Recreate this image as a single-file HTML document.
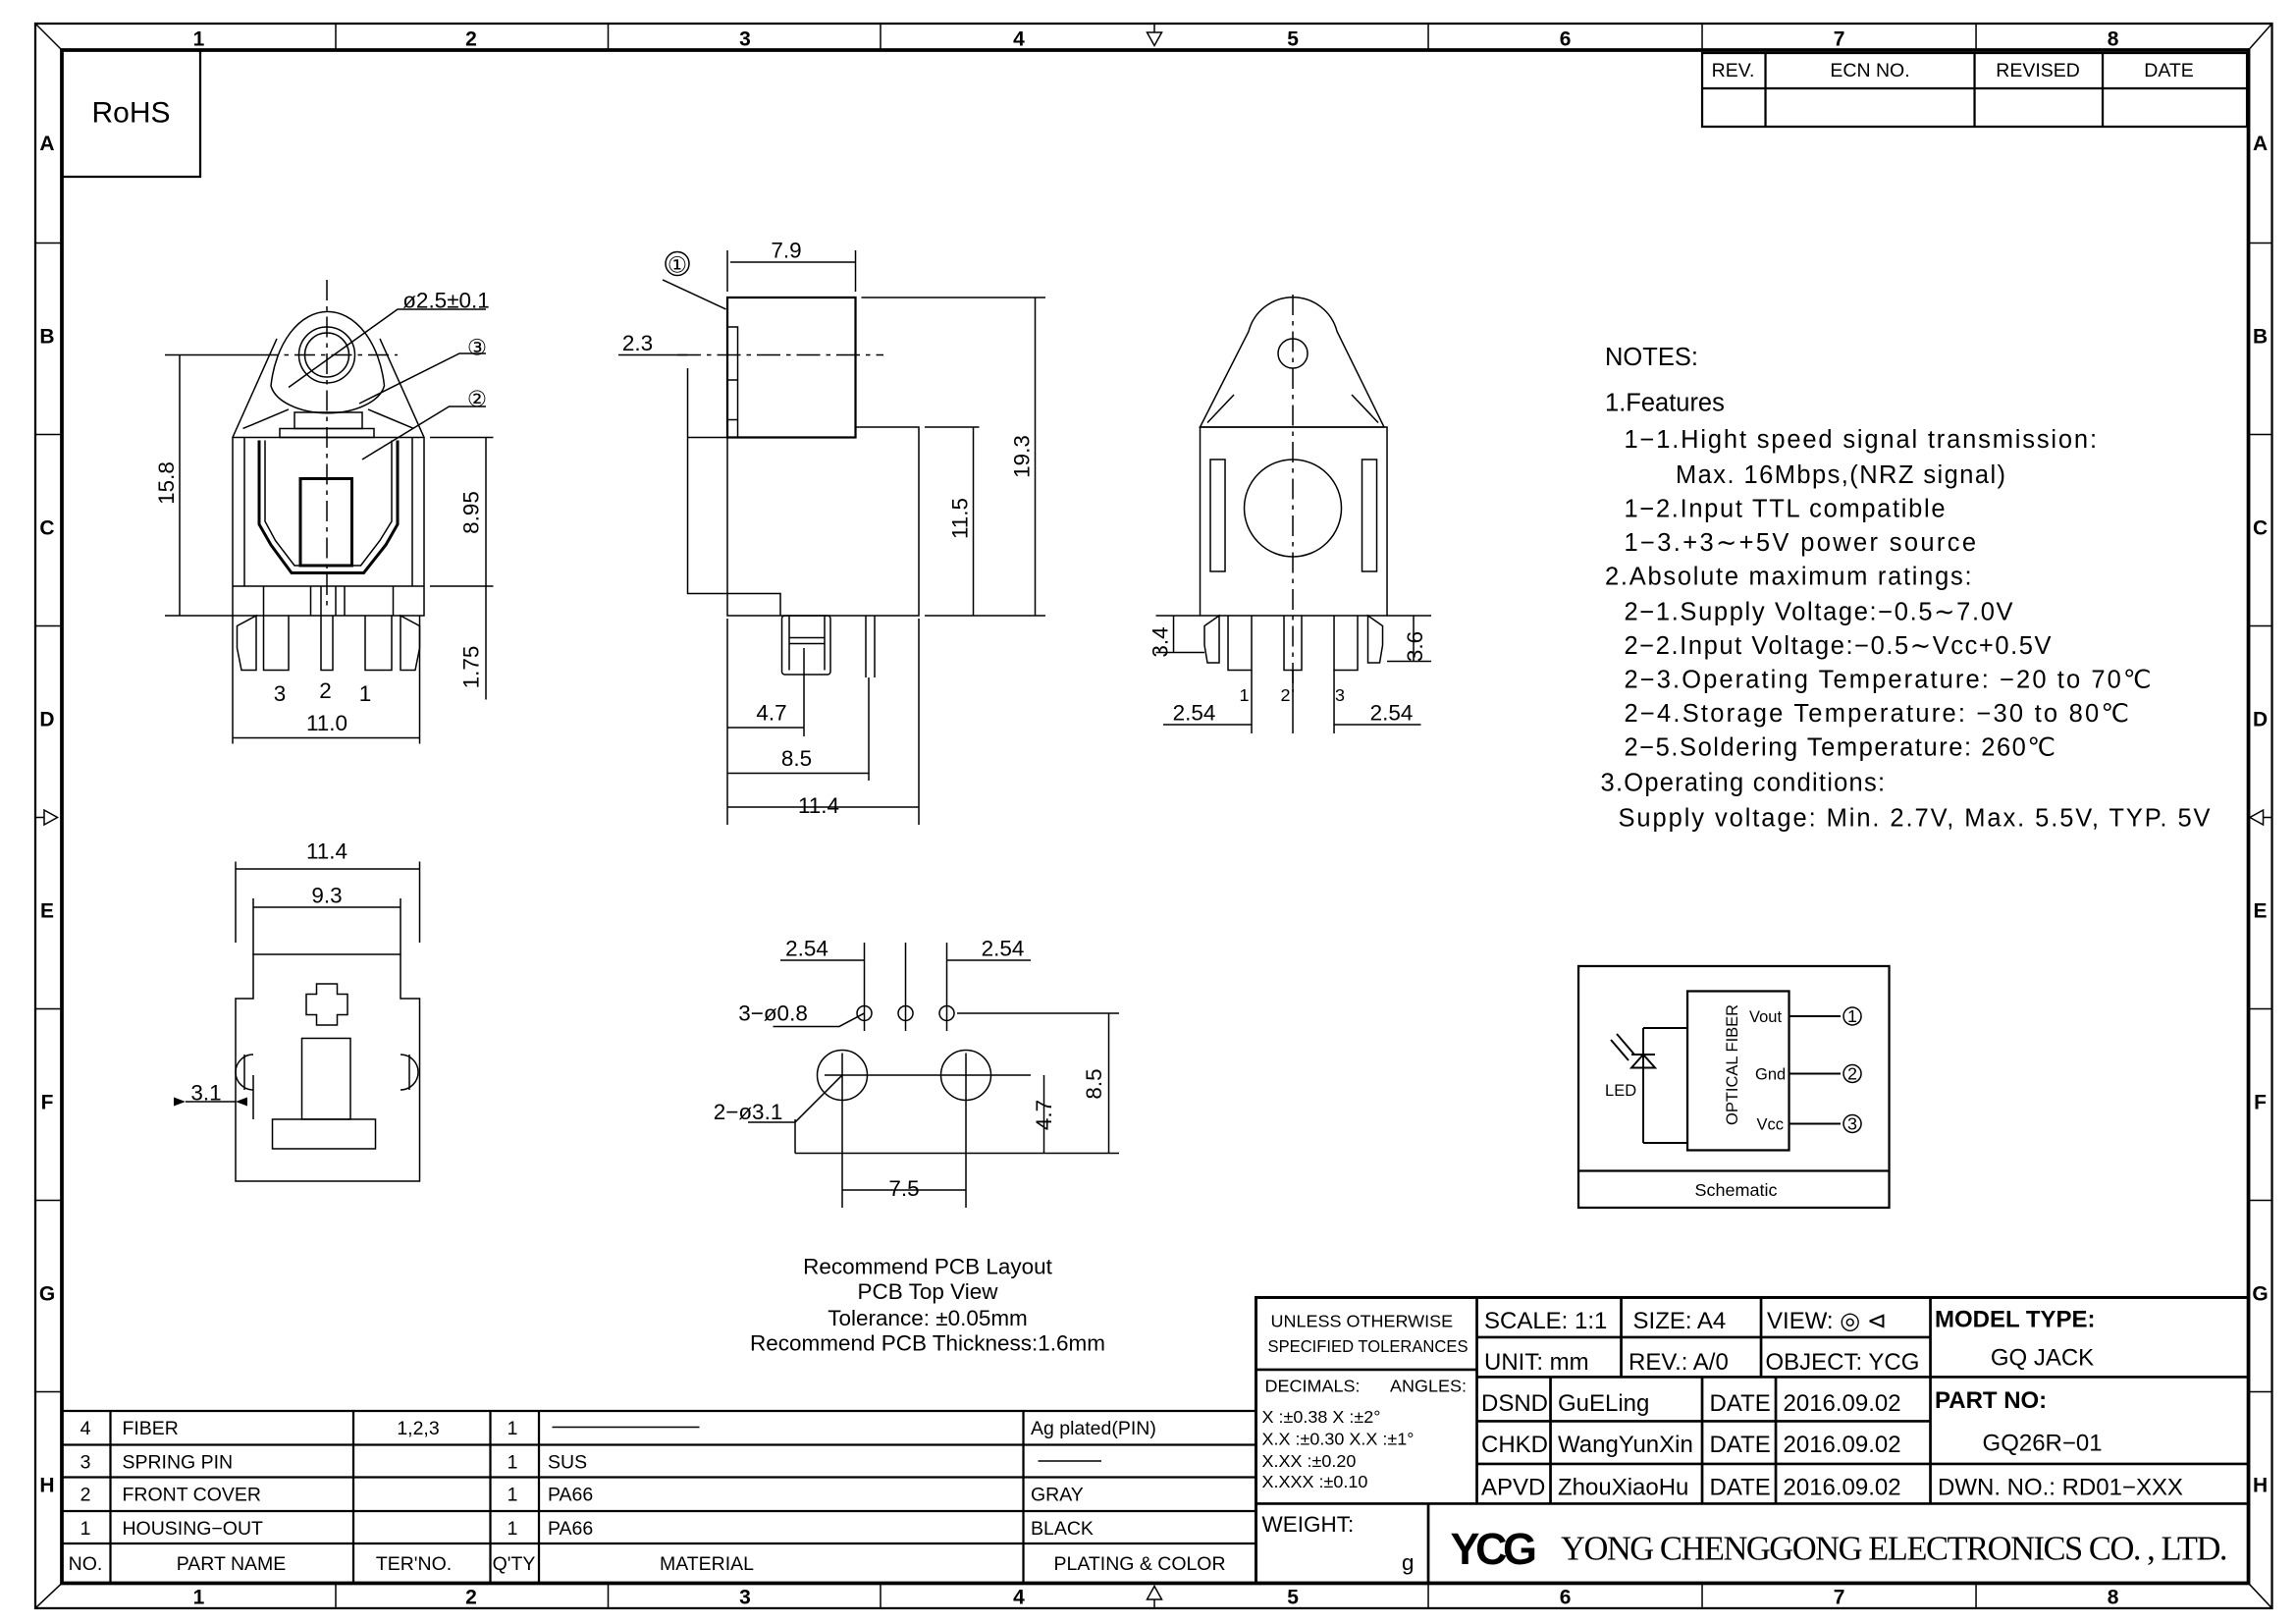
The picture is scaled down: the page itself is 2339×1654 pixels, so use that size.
<!DOCTYPE html>
<html><head><meta charset="utf-8"><style>
html,body{margin:0;padding:0;background:#fff;}
svg{display:block;}
text{font-family:"Liberation Sans Narrow","Liberation Sans",sans-serif;fill:#000;}
</style></head><body>
<svg width="2339" height="1654" viewBox="0 0 1559.3 1102.7" preserveAspectRatio="none" xmlns="http://www.w3.org/2000/svg">
<g fill="none" stroke="#000" stroke-width="1">
<rect x="24" y="16" width="1519" height="1076" stroke-width="1.5"/>
<rect x="42" y="34" width="1485" height="1041" stroke-width="2.5"/>
<line x1="24" y1="16" x2="42" y2="34"/><line x1="1543" y1="16" x2="1527" y2="34"/>
<line x1="24" y1="1092" x2="42" y2="1075"/><line x1="1543" y1="1092" x2="1527" y2="1075"/>
<path d="M228 16V34M413 16V34M598 16V34M970 16V34M1156 16V34M1342 16V34M228 1075V1092M413 1075V1092M598 1075V1092M970 1075V1092M1156 1075V1092M1342 1075V1092"/>
<path d="M24 165H42M24 295H42M24 425H42M24 685H42M24 815H42M24 945H42M1527 165H1543M1527 295H1543M1527 425H1543M1527 685H1543M1527 815H1543M1527 945H1543"/>
<path d="M779 22L784 31L789 22ZM784 16V22M779 1086L784 1077L789 1086ZM784 1092V1086M30 550L39 555L30 560ZM24 555H30M1537 550L1528 555L1537 560ZM1543 555H1537"/>
<rect x="42" y="34" width="94" height="86" stroke-width="1.5"/>
<rect x="1156" y="36" width="370" height="50" stroke-width="1.5"/>
<path d="M1156 60H1526M1199 36V86M1341 36V86M1428 36V86" stroke-width="1.5"/>
<rect x="853" y="881" width="674" height="194" stroke-width="2"/>
<path d="M1003 881V1021M853 930H1003M853 1021H1527M970 1021V1075M1311 881V1021M1003 908H1311M1003 935H1527M1003 965H1311M1003 994H1527M1101 881V935M1196 881V935M1053 935V1021M1156 935V1021M1206 935V1021" stroke-width="1.8"/>
<path d="M42 958H853M42 981H853M42 1003H853M42 1026H853M42 1048H853M75 958V1075M240 958V1075M333 958V1075M366 958V1075M695 958V1075" stroke-width="1.5"/>
<path d="M375 969H475M705 992H748"/>

<path d="M184 262 A39 60 0 0 1 261 262 A39 22 0 0 1 184 262Z"/>
<circle cx="222" cy="241" r="19"/><circle cx="222" cy="241" r="15"/>
<path d="M158 297L188 230M288 297L258 230M165 291L196 278M281 291L250 278"/>
<rect x="200" y="280" width="46" height="11"/><rect x="190" y="291" width="64" height="6"/>
<rect x="158" y="297" width="130" height="121"/>
<path d="M158 398H288M166 297V398M280 297V398"/>
<path d="M176 299V356L184 370L198 389H247L262 370L270 356V299" stroke-width="2"/>
<path d="M180 299V354L187 367L200 384H245L258 367L266 354V299"/>
<rect x="204" y="325" width="35" height="59" stroke-width="2"/>
<path d="M179 398V418M211 398V418M218 398V418M228 398V418M234 398V418M267 398V418"/>
<path d="M161 425L174 418V455H164L161 440ZM179 418V455H196V418M218 418V455H226V418M248 418V455H266V418M285 425L272 418V455H282L285 440Z"/>
<path d="M222 190V415" stroke-dasharray="14 4 3 4"/>
<path d="M175 241H270" stroke-dasharray="14 4 3 4"/>
<path d="M196 263L270 210H330M244 274L312 240H330M246 312L305 276H330"/>
<path d="M122 241V418M112 241H175M112 418H158M330 297V398M330 398V475M292 297H335M292 398H335M158 418V505M285 418V505M158 501H285"/>
<rect x="494" y="202" width="87" height="95" stroke-width="1.5"/>
<rect x="494" y="222" width="7" height="75"/>
<path d="M494 258H501M494 285H501"/>
<path d="M467 297H581M467 297V403H530V418M494 297V418H624V290H581M624 290H581"/>
<path d="M460 241H600" stroke-dasharray="16 4 3 4"/>
<rect x="531" y="418" width="33" height="40" rx="2"/>
<path d="M536 418V455M560 418V455M536 433H560M536 437H560"/>
<path d="M588 418V460M594 418V460"/>
<path d="M496 178H581M494 170V198M581 170V198M585 202H710M703 202V418M628 290H665M661 290V418M628 418H710M420 241H467M467 250V297M494 420V560M546 440V500M590 460V530M624 420V560M494 494H546M494 525H590M494 548H624M493 210L450 190"/>
<circle cx="460" cy="179" r="8"/>
<path d="M815 290L848 225A31 31 0 0 1 908 225L940 290Z"/>
<circle cx="878" cy="240" r="10"/>
<path d="M820 287L838 268M936 287L918 268"/>
<rect x="815" y="290" width="127" height="128"/>
<circle cx="878" cy="345" r="33"/>
<rect x="822" y="312" width="10" height="76"/><rect x="925" y="312" width="10" height="76"/>
<path d="M878 200V470" stroke-dasharray="14 4 3 4"/>
<path d="M818 425L828 418V450H820L818 438ZM834 418V455H850V418M872 418V455H884V418M906 418V455H922V418M939 425L929 418V450H937L939 438Z"/>
<path d="M797 418V443M785 418H815M785 443H818M960 418V449M942 418H972M942 449H972M850 455V498M906 455V498M878 455V498M790 492H850M906 492H965"/>
<path d="M160 802V678H172V648H272V678H285V802Z"/>
<path d="M215 668H229V675H236V689H229V696H215V689H208V675H215Z"/>
<path d="M172 716A12 12 0 0 0 172 740M166 716V740M272 716A12 12 0 0 1 272 740M278 716V740"/>
<rect x="205" y="705" width="33" height="55"/>
<rect x="185" y="760" width="70" height="20"/>
<path d="M160 585V640M285 585V640M172 610V648M272 610V648M160 590H285M172 616H272M126 748H160M172 730V760"/>
<circle cx="587" cy="688" r="5"/><circle cx="615" cy="688" r="5"/><circle cx="643" cy="688" r="5"/>
<circle cx="572" cy="730" r="17"/><circle cx="656" cy="730" r="17"/>
<path d="M587 640V700M615 640V700M643 640V700M530 652H587M643 652H700M572 715V820M656 715V820M540 783H760M650 688H760M572 808H656M709 730V783M753 688V783M560 730H700M540 760V783"/>
<path d="M525 697H570L587 688M508 762H540L572 730"/>
<rect x="1072" y="656" width="211" height="164" stroke-width="1.5"/>
<path d="M1072 795H1283" stroke-width="1.5"/>
<rect x="1146" y="673" width="69" height="108" stroke-width="1.5"/>
<path d="M1116 698H1146M1116 776H1146M1116 698V776M1108 725H1124L1116 716ZM1108 716H1124M1098 702L1110 716M1094 706L1106 720" stroke-width="1.3"/>
<path d="M1215 690H1250M1215 729H1250M1215 763H1250" stroke-width="1.3"/>
<circle cx="1258" cy="690" r="6"/><circle cx="1258" cy="729" r="6"/><circle cx="1258" cy="763" r="6"/>
</g>
<g fill="#000" stroke="none">
<path d="M126 748L118 745V751ZM160 748L168 745V751Z"/>
</g>
<g font-size="14" text-anchor="middle" font-weight="bold">
<text x="135" y="31">1</text><text x="320" y="31">2</text><text x="506" y="31">3</text><text x="692" y="31">4</text><text x="878" y="31">5</text><text x="1063" y="31">6</text><text x="1249" y="31">7</text><text x="1435" y="31">8</text>
<text x="135" y="1089">1</text><text x="320" y="1089">2</text><text x="506" y="1089">3</text><text x="692" y="1089">4</text><text x="878" y="1089">5</text><text x="1063" y="1089">6</text><text x="1249" y="1089">7</text><text x="1435" y="1089">8</text>
<text x="32" y="102">A</text><text x="32" y="233">B</text><text x="32" y="363">C</text><text x="32" y="493">D</text><text x="32" y="623">E</text><text x="32" y="753">F</text><text x="32" y="883">G</text><text x="32" y="1013">H</text>
<text x="1535" y="102">A</text><text x="1535" y="233">B</text><text x="1535" y="363">C</text><text x="1535" y="493">D</text><text x="1535" y="623">E</text><text x="1535" y="753">F</text><text x="1535" y="883">G</text><text x="1535" y="1013">H</text>
</g>
<text x="89" y="83" font-size="20" text-anchor="middle" style="font-family:'Liberation Sans',sans-serif">RoHS</text>
<g font-size="13" text-anchor="middle">
<text x="1177" y="52">REV.</text><text x="1270" y="52">ECN NO.</text><text x="1384" y="52">REVISED</text><text x="1473" y="52">DATE</text>
</g>
<g font-size="15" text-anchor="middle">
<text x="303" y="209">ø2.5±0.1</text>
<text x="324" y="241">③</text><text x="324" y="276">②</text>
<text transform="translate(118,328) rotate(-90)">15.8</text>
<text transform="translate(325,348) rotate(-90)">8.95</text>
<text transform="translate(325,453) rotate(-90)">1.75</text>
<text x="190" y="476">3</text><text x="221" y="474">2</text><text x="248" y="476">1</text>
<text x="222" y="496">11.0</text>
<text x="534" y="175">7.9</text><text x="433" y="238">2.3</text>
<text x="460" y="185">①</text>
<text transform="translate(699,310) rotate(-90)">19.3</text>
<text transform="translate(657,352) rotate(-90)">11.5</text>
<text x="524" y="489">4.7</text><text x="541" y="520">8.5</text><text x="556" y="552">11.4</text>
<text transform="translate(793,436) rotate(-90)">3.4</text>
<text transform="translate(966,439) rotate(-90)">3.6</text>
<text x="811" y="489">2.54</text><text x="945" y="489">2.54</text>
<text x="845" y="476" font-size="12">1</text><text x="873" y="476" font-size="12">2</text><text x="910" y="476" font-size="12">3</text>
<text x="222" y="583">11.4</text><text x="222" y="613">9.3</text><text x="140" y="747">3.1</text>
<text x="548" y="649">2.54</text><text x="681" y="649">2.54</text>
<text x="525" y="693">3−ø0.8</text><text x="508" y="760">2−ø3.1</text>
<text transform="translate(714,757) rotate(-90)">4.7</text>
<text transform="translate(748,736) rotate(-90)">8.5</text>
<text x="614" y="812">7.5</text>
</g>
<g font-size="15" text-anchor="middle">
<text x="630" y="865">Recommend  PCB Layout</text>
<text x="630" y="882">PCB Top View</text>
<text x="630" y="900">Tolerance:  ±0.05mm</text>
<text x="630" y="917">Recommend  PCB  Thickness:1.6mm</text>
</g>
<g font-size="17" style="font-family:'Liberation Sans',sans-serif" lengthAdjust="spacing">
<text x="1090" y="248">NOTES:</text>
<text x="1090" y="279">1.Features</text>
<text x="1103" y="304" textLength="321">1−1.Hight  speed  signal  transmission:</text>
<text x="1138" y="328" textLength="224">Max.  16Mbps,(NRZ  signal)</text>
<text x="1103" y="351" textLength="218">1−2.Input  TTL  compatible</text>
<text x="1103" y="374" textLength="239">1−3.+3∼+5V  power  source</text>
<text x="1090" y="397" textLength="249">2.Absolute  maximum  ratings:</text>
<text x="1103" y="421" textLength="264">2−1.Supply  Voltage:−0.5∼7.0V</text>
<text x="1103" y="444" textLength="290">2−2.Input  Voltage:−0.5∼Vcc+0.5V</text>
<text x="1103" y="467" textLength="358">2−3.Operating  Temperature:  −20  to  70℃</text>
<text x="1103" y="490" textLength="343">2−4.Storage  Temperature:  −30  to  80℃</text>
<text x="1103" y="513" textLength="293">2−5.Soldering  Temperature:  260℃</text>
<text x="1087" y="537" textLength="193">3.Operating  conditions:</text>
<text x="1099" y="561" textLength="402">Supply  voltage:  Min.  2.7V,  Max.  5.5V,  TYP.  5V</text>
</g>
<g font-size="11" style="font-family:'Liberation Sans',sans-serif">
<text x="1188" y="694">Vout</text><text x="1192" y="733">Gnd</text><text x="1193" y="767">Vcc</text>
<text x="1090" y="744">LED</text>
<text transform="translate(1180,764) rotate(-90)">OPTICAL  FIBER</text>
<text x="1179" y="812" text-anchor="middle" font-size="12">Schematic</text>
<text x="1258" y="694" text-anchor="middle" font-size="12">1</text><text x="1258" y="733" text-anchor="middle" font-size="12">2</text><text x="1258" y="767" text-anchor="middle" font-size="12">3</text>
</g>
<g font-size="13">
<text x="58" y="974" text-anchor="middle">4</text><text x="83" y="974">FIBER</text><text x="284" y="974" text-anchor="middle">1,2,3</text><text x="348" y="974" text-anchor="middle">1</text><text x="700" y="974">Ag plated(PIN)</text>
<text x="58" y="997" text-anchor="middle">3</text><text x="83" y="997">SPRING PIN</text><text x="348" y="997" text-anchor="middle">1</text><text x="372" y="997">SUS</text>
<text x="58" y="1019" text-anchor="middle">2</text><text x="83" y="1019">FRONT COVER</text><text x="348" y="1019" text-anchor="middle">1</text><text x="372" y="1019">PA66</text><text x="700" y="1019">GRAY</text>
<text x="58" y="1042" text-anchor="middle">1</text><text x="83" y="1042">HOUSING−OUT</text><text x="348" y="1042" text-anchor="middle">1</text><text x="372" y="1042">PA66</text><text x="700" y="1042">BLACK</text>
<text x="58" y="1066" text-anchor="middle">NO.</text><text x="157" y="1066" text-anchor="middle">PART NAME</text><text x="281" y="1066" text-anchor="middle">TER'NO.</text><text x="349" y="1066" text-anchor="middle">Q'TY</text><text x="480" y="1066" text-anchor="middle">MATERIAL</text><text x="774" y="1066" text-anchor="middle">PLATING &amp; COLOR</text>
</g>
<g font-size="12">
<text x="863" y="901">UNLESS OTHERWISE</text><text x="861" y="918" textLength="136" lengthAdjust="spacingAndGlyphs">SPECIFIED TOLERANCES</text>
<text x="859" y="945">DECIMALS:</text><text x="944" y="945">ANGLES:</text>
<text x="857" y="966">X      :±0.38  X   :±2°</text>
<text x="857" y="981">X.X   :±0.30  X.X :±1°</text>
<text x="857" y="996">X.XX  :±0.20</text>
<text x="857" y="1010">X.XXX :±0.10</text>
<text x="857" y="1040" font-size="15">WEIGHT:</text><text x="952" y="1066" font-size="15">g</text>
</g>
<g font-size="16">
<text x="1008" y="902">SCALE:  1:1</text><text x="1109" y="902">SIZE:  A4</text><text x="1200" y="902">VIEW: ◎ ⊲</text>
<text x="1008" y="930">UNIT:  mm</text><text x="1106" y="930">REV.:  A/0</text><text x="1199" y="930">OBJECT:  YCG</text>
<text x="1006" y="958">DSND</text><text x="1058" y="958">GuELing</text><text x="1161" y="958">DATE</text><text x="1211" y="958">2016.09.02</text>
<text x="1006" y="986">CHKD</text><text x="1058" y="986">WangYunXin</text><text x="1161" y="986">DATE</text><text x="1211" y="986">2016.09.02</text>
<text x="1006" y="1015">APVD</text><text x="1058" y="1015">ZhouXiaoHu</text><text x="1161" y="1015">DATE</text><text x="1211" y="1015">2016.09.02</text>
<text x="1387" y="927" text-anchor="middle">GQ  JACK</text>
<text x="1387" y="985" text-anchor="middle">GQ26R−01</text>
<text x="1316" y="1015">DWN.  NO.:  RD01−XXX</text>
</g>
<g font-size="16" font-weight="bold" style="font-family:'Liberation Serif',serif">
<text x="1314" y="901">MODEL  TYPE:</text><text x="1314" y="956">PART  NO:</text>
</g>
<text x="985" y="1062" font-size="30" font-weight="bold" style="font-family:'Liberation Sans Narrow','Liberation Sans',sans-serif;letter-spacing:-3px">YCG</text>
<text x="1060" y="1059" font-size="23" style="font-family:'Liberation Serif',serif" textLength="453">YONG CHENGGONG ELECTRONICS CO. , LTD.</text>
</svg>
</body></html>
